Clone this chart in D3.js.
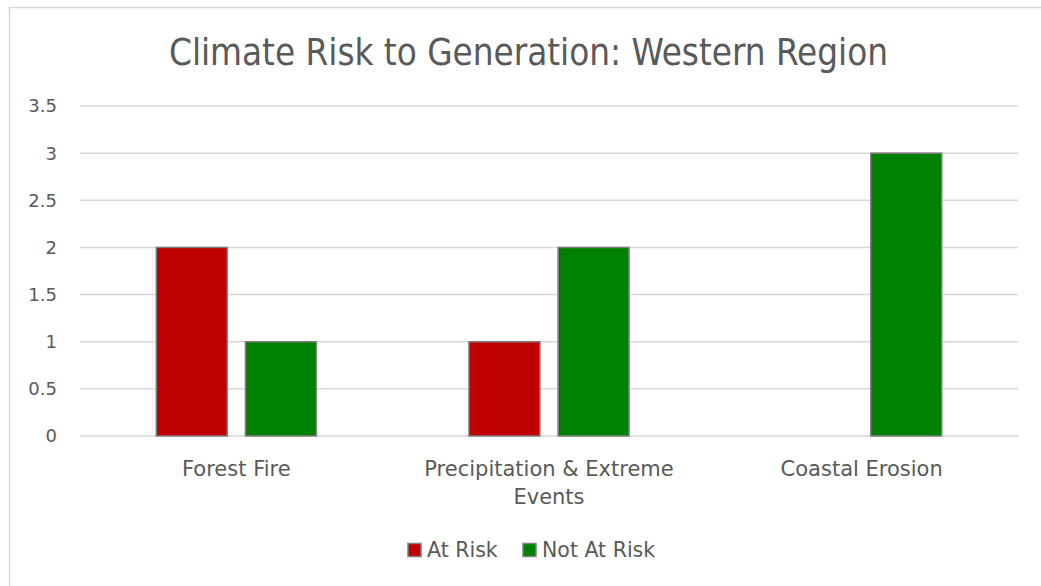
<!DOCTYPE html>
<html>
<head>
<meta charset="utf-8">
<script src="https://cdn.jsdelivr.net/npm/d3@7"></script>
<style>
  html, body { margin: 0; padding: 0; background: #fff; }
  svg { display: block; }
</style>
</head>
<body>
<svg id="chart" width="1041" height="586"></svg>
<script>
// Chart data
const categories = [["Forest Fire"], ["Precipitation & Extreme", "Events"], ["Coastal Erosion"]];
const seriesNames = ["At Risk", "Not At Risk"];
const atRisk = [2, 1, 0];
const notAtRisk = [1, 2, 3];
const yTicks = [0, 0.5, 1, 1.5, 2, 2.5, 3, 3.5];
const yTickLabels = ["0", "0.5", "1", "1.5", "2", "2.5", "3", "3.5"];
const colors = ["#c00000", "#008000"];

const svg = d3.select("#chart");
const W = 1041, H = 586;
const plot = { left: 80, right: 1018, top: 106, bottom: 436 };
const textColor = "#595959";
const font = "'DejaVu Sans', Verdana, sans-serif";

// Chart frame
svg.append("path")
  .attr("d", `M9.5,${H} V7.5 H${W}`)
  .attr("fill", "none")
  .attr("stroke", "#d9d9d9")
  .attr("stroke-width", 1.5);

// Title
svg.append("text")
  .attr("x", 528.5)
  .attr("y", 65)
  .attr("text-anchor", "middle")
  .attr("font-family", "'DejaVu Sans Condensed', 'DejaVu Sans', sans-serif")
  .attr("font-size", 38)
  .attr("textLength", 719)
  .attr("lengthAdjust", "spacingAndGlyphs")
  .attr("fill", textColor)
  .text("Climate Risk to Generation: Western Region");

const keys = categories.map((c, i) => i);
const x0 = d3.scaleBand().domain(keys).range([plot.left, plot.right]);
const y = d3.scaleLinear().domain([0, 3.5]).range([plot.bottom, plot.top]);

// Gridlines
svg.append("g")
  .selectAll("line")
  .data(yTicks)
  .join("line")
  .attr("x1", plot.left)
  .attr("x2", plot.right)
  .attr("y1", d => y(d))
  .attr("y2", d => y(d))
  .attr("stroke", "#d9d9d9")
  .attr("stroke-width", 1.5);

// Y axis labels
svg.append("g")
  .selectAll("text")
  .data(yTicks)
  .join("text")
  .attr("x", 57)
  .attr("y", d => y(d))
  .attr("dy", "0.36em")
  .attr("text-anchor", "end")
  .attr("font-family", font)
  .attr("font-size", 18)
  .attr("fill", textColor)
  .text((d, i) => yTickLabels[i]);

// Bars: width and spacing follow the band
const band = x0.bandwidth();
const barW = band * 0.227;
const innerGap = band * 0.058;
const series = [atRisk, notAtRisk];

series.forEach((vals, s) => {
  svg.append("g")
    .selectAll("rect")
    .data(vals.map((v, i) => ({ v, i })).filter(d => d.v > 0))
    .join("rect")
    .attr("x", d => {
      const c = x0(d.i) + band / 2;
      const groupW = barW * 2 + innerGap;
      return c - groupW / 2 + s * (barW + innerGap);
    })
    .attr("y", d => y(d.v))
    .attr("width", barW)
    .attr("height", d => y(0) - y(d.v))
    .attr("fill", colors[s])
    .attr("stroke", "#7f7f7f")
    .attr("stroke-width", 1.5);
});

// Category labels
const catG = svg.append("g");
categories.forEach((lines, i) => {
  const t = catG.append("text")
    .attr("x", x0(i) + band / 2)
    .attr("y", 476)
    .attr("text-anchor", "middle")
    .attr("font-family", font)
    .attr("font-size", 21)
    .attr("fill", textColor);
  lines.forEach((ln, j) => {
    t.append("tspan")
      .attr("x", x0(i) + band / 2)
      .attr("dy", j === 0 ? 0 : 28)
      .text(ln);
  });
});

// Legend
const legend = svg.append("g").attr("font-family", font).attr("font-size", 20.5).attr("fill", textColor);
const legendItems = [{ x: 408, name: seriesNames[0], color: colors[0] }, { x: 523, name: seriesNames[1], color: colors[1] }];
legendItems.forEach(it => {
  legend.append("rect")
    .attr("x", it.x)
    .attr("y", 543.5)
    .attr("width", 13)
    .attr("height", 13)
    .attr("fill", it.color)
    .attr("stroke", "#7f7f7f")
    .attr("stroke-width", 1.5);
  legend.append("text")
    .attr("x", it.x + 19)
    .attr("y", 557)
    .text(it.name);
});
</script>
</body>
</html>
